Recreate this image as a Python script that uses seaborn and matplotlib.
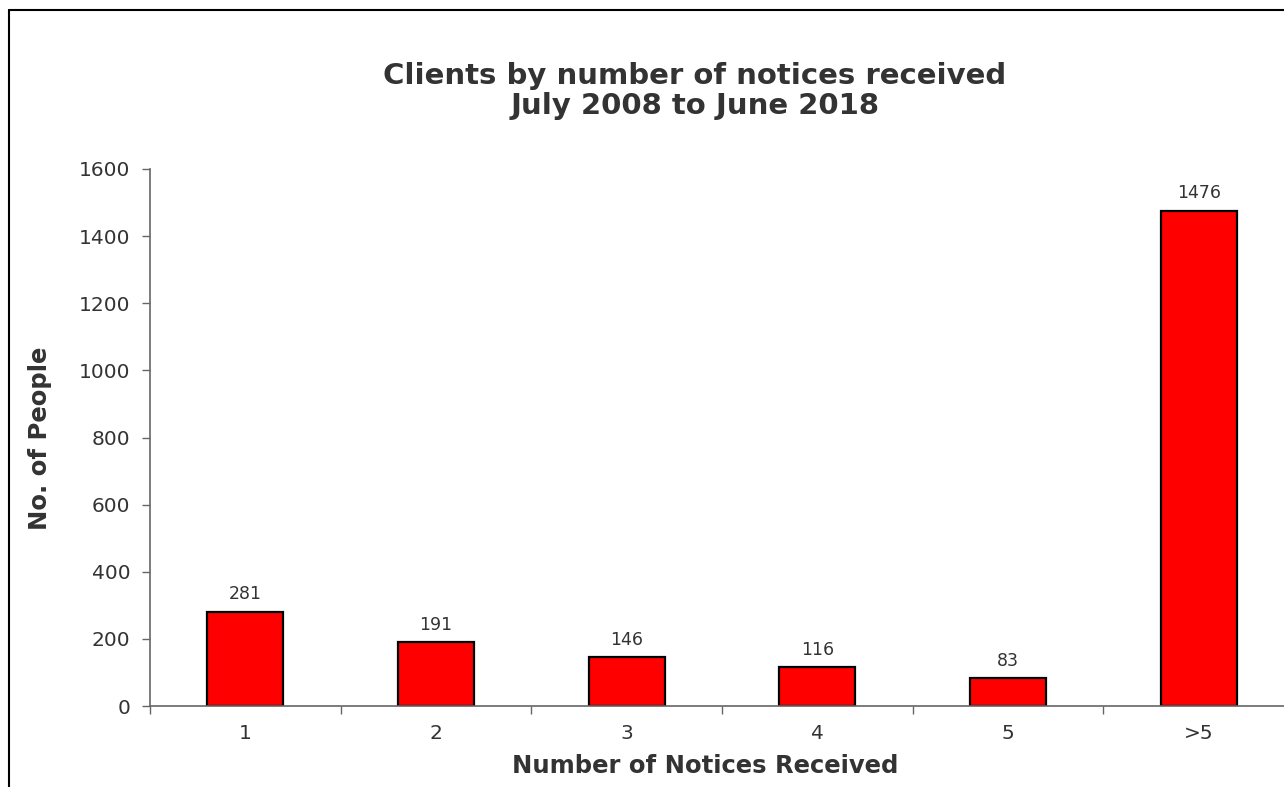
"""Clients by number of notices received, July 2008 to June 2018."""
import matplotlib.pyplot as plt
import numpy as np
import seaborn as sns
from matplotlib.lines import Line2D
from matplotlib.ticker import FixedLocator

categories = ["1", "2", "3", "4", "5", ">5"]
people = [281, 191, 146, 116, 83, 1476]
y_ticks = [0, 200, 400, 600, 800, 1000, 1200, 1400, 1600]

TEXT = "#333333"
AXIS = "#666666"

sns.set_theme(style="white")
plt.rcParams["font.family"] = ["DejaVu Sans"]

W, H = 1284, 787
fig = plt.figure(figsize=(W / 100, H / 100), dpi=100)
# plot area runs past the right edge of the picture, as in the source
ax = fig.add_axes([150 / W, 81 / H, 1144 / W, 537 / H])

sns.barplot(x=categories, y=people, color="#ff0000", edgecolor="black",
            linewidth=1.6, width=0.4, saturation=1, ax=ax)
ax.bar_label(ax.containers[0], padding=6, fontsize=12.5, color=TEXT)

ax.set_xlim(-0.5, len(categories) - 0.5)
ax.set_ylim(0, 1600)
ax.set_yticks(y_ticks)
ax.tick_params(axis="y", labelsize=14.5, labelcolor=TEXT, length=6,
               width=1, color=AXIS, direction="out", left=True, pad=8)
ax.tick_params(axis="x", which="major", labelsize=14.5, labelcolor=TEXT,
               length=0, pad=13)
ax.xaxis.set_minor_locator(FixedLocator(np.arange(-0.5, len(categories), 1.0)))
ax.tick_params(axis="x", which="minor", length=6, width=1, color=AXIS,
               direction="out", bottom=True)

for side in ["top", "right"]:
    ax.spines[side].set_visible(False)
for side in ["left", "bottom"]:
    ax.spines[side].set_color(AXIS)
    ax.spines[side].set_linewidth(1.2)

ax.set_xlabel("")
ax.set_ylabel("")
fig.text(705 / W, 1 - 766 / H, "Number of Notices Received", ha="center",
         va="center", fontsize=17.5, fontweight="bold", color=TEXT)
fig.text(40 / W, 1 - 438 / H, "No. of People", ha="center", va="center",
         rotation=90, fontsize=17.5, fontweight="bold", color=TEXT)
fig.text(695 / W, 1 - 91 / H, "Clients by number of notices received\nJuly 2008 to June 2018",
         ha="center", va="center", fontsize=21, fontweight="bold", color=TEXT,
         linespacing=1.1)

# chart frame, cut off on the right and bottom
fig.add_artist(Line2D([9 / W, 1.0], [1 - 10 / H, 1 - 10 / H], color="black",
                      linewidth=1.5, transform=fig.transFigure))
fig.add_artist(Line2D([9 / W, 9 / W], [0.0, 1 - 10 / H], color="black",
                      linewidth=1.5, transform=fig.transFigure))

fig.savefig("out.png", dpi=100)
